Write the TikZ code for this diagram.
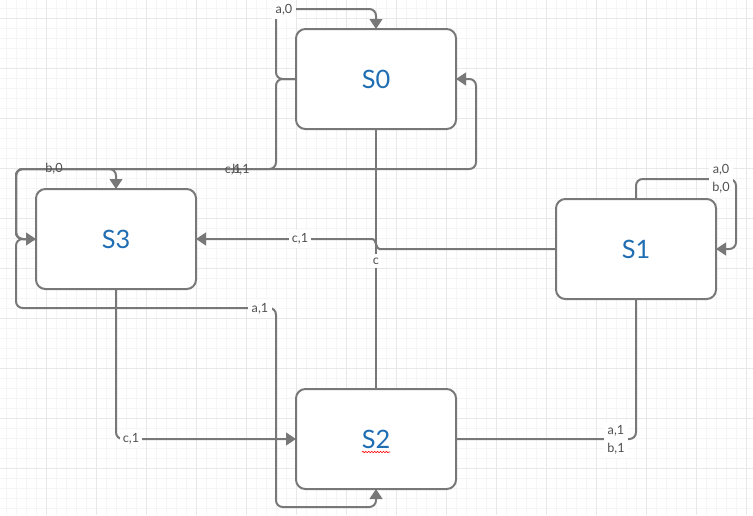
\documentclass[tikz,border=0pt]{standalone}
\usepackage{fontspec}
\setmainfont{Lato}
\usetikzlibrary{arrows.meta,calc,decorations.pathmorphing}

\definecolor{gridminor}{HTML}{F5F5F5}
\definecolor{gridmajor}{HTML}{E8E8E8}
\definecolor{wire}{HTML}{787878}
\definecolor{statetext}{HTML}{1F6EB3}
\definecolor{labeltext}{HTML}{505050}

\tikzset{
  state/.style={draw=wire, line width=1.5pt, fill=white, rounded corners=7pt,
    minimum width=120pt, minimum height=75pt, inner sep=0pt, outer sep=0pt,
    text=statetext, font=\fontsize{19}{22}\selectfont},
  edge/.style={draw=wire, line width=1.5pt, rounded corners=5pt},
  arr/.style={-{Triangle[length=7.5pt,width=9.5pt]}},
  lbl/.style={text=labeltext, font=\fontsize{9.5}{13.5}\selectfont,
    inner sep=1.5pt, align=center},
  lblbg/.style={lbl, fill=white, inner sep=2.5pt},
}

\begin{document}
\begin{tikzpicture}[x=0.75pt,y=-0.75pt]
\useasboundingbox (0,0) rectangle (753,515);
\fill[white] (0,0) rectangle (753,515);

% background grid
\foreach \x in {6.5,16.5,...,750}
  \draw[gridminor, line width=0.75pt] (\x,0) -- (\x,515);
\foreach \y in {8,18,...,515}
  \draw[gridminor, line width=0.75pt] (0,\y) -- (753,\y);
\foreach \x in {46.5,96.5,...,750}
  \draw[gridmajor, line width=0.75pt] (\x,0) -- (\x,515);
\foreach \y in {18,68,...,515}
  \draw[gridmajor, line width=0.75pt] (0,\y) -- (753,\y);

% states
\node[state] (S0) at (376,79) {S0};
\node[state] (S3) at (116,239) {S3};
\node[state] (S1) at (636,249) {S1};
\node[state] (S2) at (376,439) {S2};

% spell-check squiggle under S2
\draw[red, line width=0.45pt, decorate,
  decoration={snake, amplitude=0.5pt, segment length=2.2pt}]
  (362,452) -- (390,452);

% bend points
\coordinate (j1) at (386,249);
\coordinate (j2) at (366,239);
\coordinate (a1bend) at (276,308);

% S0 self loop a,0
\draw[edge,arr] (S0.west) -- ++(-20,0) |- ($(S0.north)+(0,-20)$) -- (S0.north);
% S0 -> S3  c,1
\draw[edge,arr] (S0.west) -- ++(-20,0) |- ($(S3.west)+(-20,-70)$) |- (S3.west);
% S3 -> S0  b,1
\draw[edge,arr] (S3.west) -- ++(-20,0) |- ($(S0.east)+(20,90)$) |- (S0.east);
% S3 self loop b,0
\draw[edge,arr] (S3.west) -- ++(-20,0) |- ($(S3.north)+(0,-20)$) -- (S3.north);
% S1 -> S3  c,1
\draw[edge,arr] (S1.west) -- (j1) .. controls (376,249) and (376,239) .. (j2) -- (S3.east);
% S2 -- S0  c
\draw[edge] (S0.south) -- (S2.north);
% S3 -> S2  c,1
\draw[edge,arr] (S3.south) |- (S2.west);
% S3 -> S2  a,1
\draw[edge,arr] (S3.west) -- ++(-20,0) |- (a1bend) |- ($(S2.south)+(0,18)$) -- (S2.south);
% S1 self loop a,0 / b,0
\draw[edge,arr] (S1.north) -- ++(0,-20) -| ($(S1.east)+(20,0)$) -- (S1.east);
% S2 -- S1  a,1 / b,1
\draw[edge] (S2.east) -| (S1.south);

% transition labels
\node[lblbg] (la0) at (284,10) {a,0};
\node[lbl] (lb0) at (54,169) {b,0};
\node[lbl] (lc1a) at (233,170) {c,1};
\node[lbl] (lb1) at (241,170) {b,1};
\node[lblbg] (lc1b) at (300,239) {c,1};
\node[lblbg] (lc) at (376,261) {c};
\node[lblbg] (la1) at (260,309) {a,1};
\node[lblbg] (lc1c) at (131,439) {c,1};
\node[lblbg] (lab0) at (721,179) {a,0\\b,0};
\node[lblbg] (lab1) at (616,440) {a,1\\b,1};
\end{tikzpicture}
\end{document}
